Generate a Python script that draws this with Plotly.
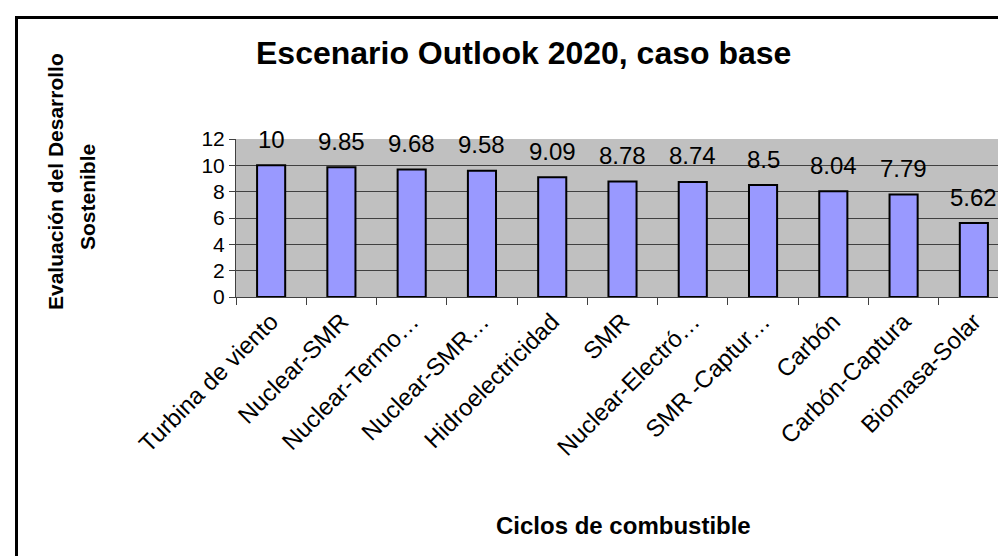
import plotly.graph_objects as go

categories = ["Turbina de viento", "Nuclear-SMR", "Nuclear-Termo…", "Nuclear-SMR…",
              "Hidroelectricidad", "SMR", "Nuclear-Electró…", "SMR -Captur…",
              "Carbón", "Carbón-Captura", "Biomasa-Solar"]
values = [10, 9.85, 9.68, 9.58, 9.09, 8.78, 8.74, 8.5, 8.04, 7.79, 5.62]
value_labels = ["10", "9.85", "9.68", "9.58", "9.09", "8.78", "8.74", "8.5", "8.04", "7.79", "5.62"]
y_ticks = [0, 2, 4, 6, 8, 10, 12]

FONT = "Arial, Liberation Sans, sans-serif"
W, H = 1006, 556
L, R, T, B = 228, 5, 131, 267
pw, ph = W - L - R, H - T - B

def px(x):
    return (x - L) / pw

def py(y):
    return (H - B - y) / ph

fig = go.Figure(go.Bar(
    x=categories, y=values,
    marker=dict(color="#9999FF", line=dict(color="black", width=2)),
    width=0.4,
))

# value labels above bars
for c, v, t in zip(categories, values, value_labels):
    fig.add_annotation(x=c, y=v, text=t, showarrow=False, yshift=26,
                       xanchor="center", yanchor="middle",
                       font=dict(size=24, family=FONT, color="black"))

fig.update_layout(
    width=W, height=H,
    margin=dict(l=L, r=R, t=T, b=B),
    paper_bgcolor="white", plot_bgcolor="#C0C0C0",
    font=dict(family=FONT, color="black"),
    showlegend=False,
    xaxis=dict(
        type="category", tickangle=-45, tickfont=dict(size=24),
        ticks="outside", tickson="boundaries", ticklen=7, tickcolor="#404040",
        showline=True, linecolor="#404040", linewidth=1, showgrid=False,
        mirror=False,
    ),
    yaxis=dict(
        range=[0, 12], tickvals=y_ticks, tickfont=dict(size=21),
        ticks="outside", ticklen=6, tickcolor="#404040",
        showline=True, linecolor="#404040", linewidth=1,
        showgrid=True, gridcolor="#404040", gridwidth=1, zeroline=False,
    ),
)

# right edge of plot area
fig.add_shape(type="line", xref="paper", yref="paper", x0=1, x1=1, y0=0, y1=1,
              line=dict(color="#808080", width=1))

# chart outer border (left and top visible)
fig.add_shape(type="line", xref="paper", yref="paper",
              x0=px(8.5), x1=px(8.5), y0=py(9), y1=py(600),
              line=dict(color="black", width=3))
fig.add_shape(type="line", xref="paper", yref="paper",
              x0=px(7), x1=px(1100), y0=py(9.5), y1=py(9.5),
              line=dict(color="black", width=3))

fig.add_annotation(text="<b>Escenario Outlook 2020, caso base</b>",
                   xref="paper", yref="paper", x=px(515), y=py(45),
                   showarrow=False, font=dict(size=32, family=FONT),
                   xanchor="center", yanchor="middle")
fig.add_annotation(text="<b>Evaluación del Desarrollo</b>",
                   xref="paper", yref="paper", x=px(47), y=py(174),
                   showarrow=False, textangle=-90, font=dict(size=21, family=FONT),
                   xanchor="center", yanchor="middle")
fig.add_annotation(text="<b>Sostenible</b>",
                   xref="paper", yref="paper", x=px(79), y=py(189),
                   showarrow=False, textangle=-90, font=dict(size=21, family=FONT),
                   xanchor="center", yanchor="middle")
fig.add_annotation(text="<b>Ciclos de combustible</b>",
                   xref="paper", yref="paper", x=px(615), y=py(517),
                   showarrow=False, font=dict(size=24, family=FONT),
                   xanchor="center", yanchor="middle")

fig.write_html("out.html")
